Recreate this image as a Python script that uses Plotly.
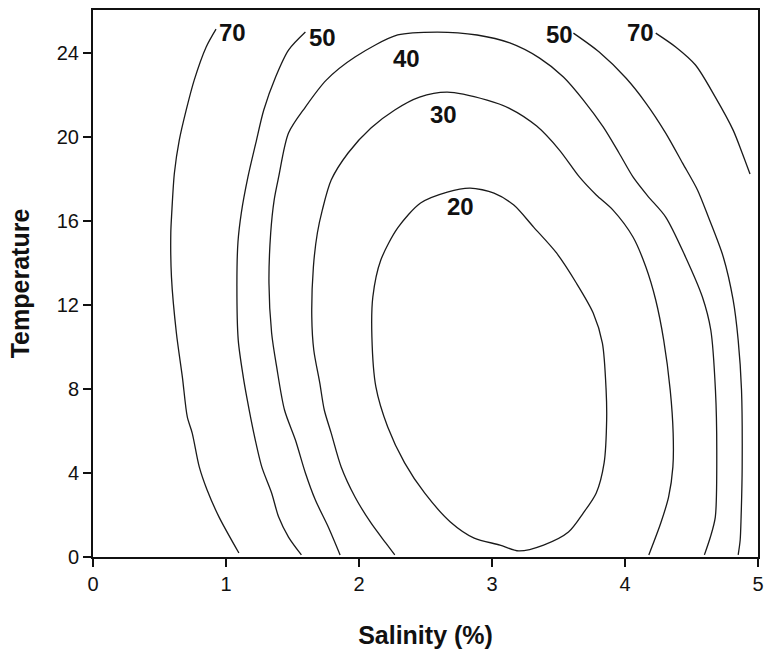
import plotly.graph_objects as go

# Response contours of salinity (%) vs temperature; each level traced as a path.
c70_left_sal = [0.925, 0.851, 0.761, 0.701, 0.649, 0.612, 0.592, 0.585, 0.590, 0.627,
                0.672, 0.709, 0.746, 0.799, 0.858, 0.948, 1.097]
c70_left_tmp = [25.14, 24.29, 22.71, 21.29, 19.86, 18.29, 16.38, 15.43, 13.33, 10.67,
                8.57, 6.67, 5.90, 4.29, 3.19, 1.90, 0.19]

c50_left_sal = [1.597, 1.470, 1.373, 1.284, 1.224, 1.165, 1.115, 1.090, 1.082, 1.092,
                1.130, 1.160, 1.209, 1.269, 1.343, 1.396, 1.470, 1.567]
c50_left_tmp = [25.00, 24.14, 22.86, 21.29, 19.71, 18.10, 16.38, 15.00, 13.05, 10.33,
                8.57, 7.48, 5.90, 4.29, 3.05, 1.90, 0.95, 0.10]

c40_sal = [1.858, 1.769, 1.672, 1.597, 1.522, 1.440, 1.381, 1.343, 1.323, 1.336,
           1.362, 1.396, 1.470, 1.597, 1.754, 1.970, 2.291, 2.590, 2.888, 3.134,
           3.358, 3.537, 3.687, 3.836, 3.955, 4.060, 4.170, 4.306, 4.455, 4.582,
           4.645, 4.680, 4.690, 4.679, 4.642, 4.597]
c40_tmp = [0.10, 1.43, 2.71, 4.00, 5.57, 7.00, 9.05, 10.67, 13.05, 15.43,
           17.00, 18.10, 20.19, 21.43, 22.71, 23.81, 24.86, 25.00, 24.86, 24.48,
           23.76, 22.86, 21.76, 20.48, 19.24, 18.10, 17.20, 16.19, 14.29, 12.38,
           10.81, 7.95, 5.10, 1.90, 0.95, 0.10]

c30_sal = [2.269, 2.201, 2.090, 1.970, 1.866, 1.791, 1.739, 1.705, 1.660, 1.645,
           1.657, 1.687, 1.724, 1.791, 1.918, 2.090, 2.269, 2.455, 2.664, 2.963,
           3.127, 3.336, 3.507, 3.657, 3.784, 3.910, 4.060, 4.157, 4.231, 4.291,
           4.340, 4.362, 4.360, 4.328, 4.269, 4.179]
c30_tmp = [0.10, 0.67, 1.62, 2.86, 4.29, 5.90, 7.00, 8.29, 9.86, 11.43,
           13.81, 15.43, 16.52, 17.95, 19.24, 20.43, 21.29, 21.90, 22.14, 21.76,
           21.38, 20.52, 19.38, 18.10, 17.24, 16.52, 15.24, 13.81, 12.24, 10.33,
           7.95, 5.90, 4.29, 2.86, 1.62, 0.10]

c20_sal = [2.836, 3.015, 3.164, 3.313, 3.485, 3.634, 3.761, 3.830, 3.858, 3.862,
           3.843, 3.784, 3.687, 3.575, 3.388, 3.201, 3.060, 2.866, 2.687, 2.493,
           2.343, 2.216, 2.127, 2.097, 2.104, 2.164, 2.291, 2.463, 2.664, 2.836]
c20_tmp = [17.57, 17.33, 16.76, 15.71, 14.48, 13.05, 11.62, 10.19, 7.95, 6.52,
           4.48, 3.05, 2.10, 1.19, 0.57, 0.29, 0.57, 0.90, 1.67, 3.05,
           4.48, 6.19, 8.10, 10.48, 12.38, 14.14, 15.67, 16.86, 17.38, 17.57]

c50_right_sal = [3.612, 3.806, 4.007, 4.157, 4.306, 4.433, 4.545, 4.627, 4.739, 4.813,
                 4.851, 4.876, 4.881, 4.873, 4.866, 4.851]
c50_right_tmp = [24.95, 24.05, 22.81, 21.62, 20.19, 18.76, 17.48, 16.19, 14.29, 12.24,
                 10.33, 7.95, 4.29, 1.90, 0.81, 0.10]

c70_right_sal = [4.231, 4.381, 4.530, 4.679, 4.813, 4.881, 4.940]
c70_right_tmp = [24.95, 24.29, 23.43, 21.90, 20.33, 19.24, 18.24]

# Level labels and where they sit
label_levels = [70, 50, 40, 30, 20, 50, 70]
label_sal = [1.05, 1.724, 2.358, 2.634, 2.761, 3.507, 4.12]
label_tmp = [25.0, 24.76, 23.76, 21.05, 16.67, 24.86, 25.0]

x_ticks = [0, 1, 2, 3, 4, 5]
y_ticks = [0, 4, 8, 12, 16, 20, 24]

paths = [
    (c70_left_sal, c70_left_tmp),
    (c50_left_sal, c50_left_tmp),
    (c40_sal, c40_tmp),
    (c30_sal, c30_tmp),
    (c20_sal, c20_tmp),
    (c50_right_sal, c50_right_tmp),
    (c70_right_sal, c70_right_tmp),
]

FONT = "Arial, Liberation Sans, Helvetica, sans-serif"

fig = go.Figure()
for sal, tmp in paths:
    fig.add_trace(go.Scatter(
        x=sal, y=tmp, mode="lines",
        line=dict(color="#1a1a1a", width=1.3, shape="spline", smoothing=0.8),
        hoverinfo="skip", showlegend=False,
    ))

for lvl, sx, ty in zip(label_levels, label_sal, label_tmp):
    fig.add_annotation(
        x=sx, y=ty, text=f"<b>{lvl}</b>", showarrow=False,
        font=dict(family=FONT, size=24, color="#111"),
        xanchor="center", yanchor="middle",
    )

axis_common = dict(
    showgrid=False, zeroline=False,
    showline=True, linecolor="#111", linewidth=2, mirror=True,
    ticks="outside", ticklen=8, tickwidth=1.5, tickcolor="#111",
    tickfont=dict(family=FONT, size=20, color="#111"),
)

fig.update_layout(
    width=768, height=650,
    margin=dict(l=93, r=4, t=10, b=93),
    paper_bgcolor="white", plot_bgcolor="white",
    xaxis=dict(
        range=[0, 5], tickvals=x_ticks, ticktext=[str(v) for v in x_ticks],
        title=dict(text="<b>Salinity (%)</b>", font=dict(family=FONT, size=25, color="#111"),
                   standoff=32),
        **axis_common,
    ),
    yaxis=dict(
        range=[0, 26.05], tickvals=y_ticks, ticktext=[str(v) for v in y_ticks],
        title=dict(text="<b>Temperature</b>", font=dict(family=FONT, size=25, color="#111"),
                   standoff=20),
        **axis_common,
    ),
)

fig.write_html("out.html")
